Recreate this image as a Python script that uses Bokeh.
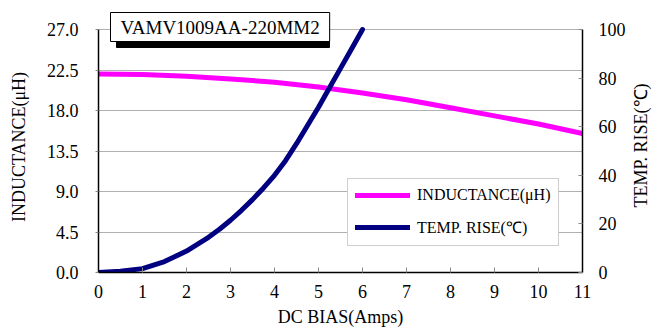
import math
from bokeh.plotting import figure
from bokeh.models import (Range1d, LinearAxis, FixedTicker, NumeralTickFormatter,
                          Legend, LegendItem, Label, BoxAnnotation)
from bokeh.embed import file_html
from bokeh.resources import INLINE

# ---- data ----
amps_L = [0, 1, 2, 3, 4, 5, 6, 7, 8, 9, 10, 11]
inductance = [22.05, 22.0, 21.8, 21.5, 21.15, 20.6, 19.95, 19.2, 18.3, 17.4, 16.5, 15.45]
amps_T = [0, 0.5, 1, 1.5, 2, 2.5, 2.75, 3, 3.25, 3.5, 3.75, 4, 4.25, 4.5, 4.75,
          5, 5.25, 5.5, 5.75, 6]
temp_rise = [0, 0.5, 1.6, 4.5, 8.8, 14.5, 17.8, 21.5, 25.6, 30, 34.8, 40, 46,
             53, 60.5, 68, 76, 84, 92, 100]

x_ticks = [0, 1, 2, 3, 4, 5, 6, 7, 8, 9, 10, 11]
left_ticks = [0, 4.5, 9.0, 13.5, 18.0, 22.5, 27.0]
right_ticks = [0, 20, 40, 60, 80, 100]
L_MAX = 27.0
T_MAX = 100.0
X_MAX = 11

title_text = "VAMV1009AA-220MM2"
x_label = "DC BIAS(Amps)"
left_label = "INDUCTANCE(μH)"
right_label = "TEMP. RISE(℃)"
legend_L = "INDUCTANCE(μH)"
legend_T = "TEMP. RISE(℃)"

FONT = "Liberation Serif"

FRAME_LEFT = 98
FRAME_H = 272
PLOT_TOP_GAP = 29
scale = FRAME_H / (FRAME_H - PLOT_TOP_GAP)
PX_PER_X = (582 - FRAME_LEFT) / X_MAX
PX_PER_L = (FRAME_H - PLOT_TOP_GAP) / L_MAX


def px_to_x(px):
    return (px - FRAME_LEFT) / PX_PER_X


def px_to_l(py):
    return (FRAME_H - py) / PX_PER_L


p = figure(width=664, height=331, output_backend="svg", toolbar_location=None,
           x_range=Range1d(0, X_MAX), y_range=Range1d(0, L_MAX * scale),
           min_border_left=FRAME_LEFT, min_border_right=82, min_border_top=0,
           min_border_bottom=59)
p.extra_y_ranges = {"temp": Range1d(0, T_MAX * scale)}
p.outline_line_color = None
p.background_fill_color = "white"
p.border_fill_color = "white"

xa = p.xaxis[0]
xa.ticker = FixedTicker(ticks=x_ticks)
xa.axis_label = x_label
ya = p.yaxis[0]
ya.ticker = FixedTicker(ticks=left_ticks)
ya.formatter = NumeralTickFormatter(format="0.0")
ya.bounds = (0, L_MAX)

ra = LinearAxis(y_range_name="temp", ticker=FixedTicker(ticks=right_ticks),
                bounds=(0, T_MAX))
p.add_layout(ra, "right")

for ax in (xa, ya, ra):
    ax.axis_line_color = "black"
    ax.axis_line_width = 1.5
    ax.major_tick_line_color = "#888888"
    ax.minor_tick_line_color = None
    ax.major_label_text_font = FONT
    ax.major_label_text_font_size = "18px"
    ax.major_label_text_color = "black"
    ax.axis_label_text_font = FONT
    ax.axis_label_text_font_size = "18px"
    ax.axis_label_text_font_style = "normal"
    ax.axis_label_text_color = "black"

xa.major_tick_in = 5
xa.major_tick_out = 0
xa.major_label_standoff = 12
xa.axis_label_standoff = 6

ya.major_tick_in = 0
ya.major_tick_out = 3
ya.major_label_standoff = 17

ra.major_tick_in = 4
ra.major_tick_out = 0
ra.major_label_standoff = 16

p.xgrid.grid_line_color = None
p.ygrid.ticker = FixedTicker(ticks=left_ticks)
p.ygrid.grid_line_color = "#b0b0b0"
p.ygrid.grid_line_width = 1

rL = p.line(amps_L, inductance, line_color="#FF00FF", line_width=5,
            line_join="round", line_cap="round")
rT = p.line(amps_T, temp_rise, y_range_name="temp", line_color="#000080",
            line_width=5, line_join="round", line_cap="round")

legend = Legend(items=[LegendItem(label=legend_L, renderers=[rL]),
                       LegendItem(label=legend_T, renderers=[rT])],
                location=(249, 26))
legend.label_text_font = FONT
legend.label_text_font_size = "16px"
legend.label_text_color = "black"
legend.glyph_width = 55
legend.glyph_height = 16
legend.label_height = 16
legend.label_standoff = 7
legend.spacing = 12
legend.padding = 7
legend.margin = 0
legend.border_line_color = "#a0a0a0"
legend.border_line_width = 1
legend.background_fill_color = "white"
legend.background_fill_alpha = 1.0
p.add_layout(legend, "center")

# title box: black drop shadow then white framed label
shadow = BoxAnnotation(left=px_to_x(116), right=px_to_x(329),
                       top=px_to_l(18), bottom=px_to_l(47),
                       fill_color="black", fill_alpha=1.0,
                       line_color="black", line_alpha=1.0, line_width=1)
p.add_layout(shadow)
box = Label(x=12, y=260, x_units="screen", y_units="screen", text=title_text,
            text_font=FONT, text_font_size="19px", text_color="black",
            text_align="left", text_baseline="top", padding=(10, 4),
            background_fill_color="white", border_line_color="black",
            border_line_width=1)
p.add_layout(box)

# vertical axis titles, both reading bottom-to-top, in the side panels
llab = Label(x=px_to_x(18.5), y=px_to_l(146.5), x_units="data", y_units="data",
             text=left_label, text_font=FONT, text_font_size="18px",
             text_color="black", angle=math.pi / 2, text_align="center",
             text_baseline="middle")
rlab = Label(x=px_to_x(640), y=px_to_l(145), x_units="data", y_units="data",
             text=right_label, text_font=FONT, text_font_size="18px",
             text_color="black", angle=math.pi / 2, text_align="center",
             text_baseline="middle")
p.add_layout(llab, "left")
p.add_layout(rlab, "right")

open("out.html", "w").write(file_html(p, INLINE))
